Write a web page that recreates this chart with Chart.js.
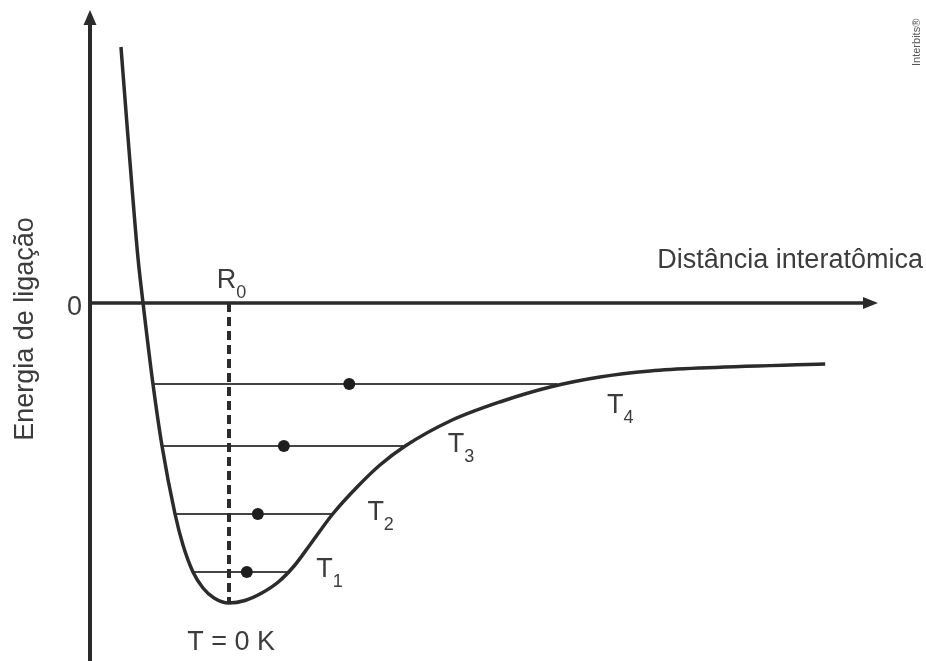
<!DOCTYPE html>
<html>
<head>
<meta charset="utf-8">
<script src="https://cdn.jsdelivr.net/npm/chart.js@4/dist/chart.umd.min.js"></script>
<style>
  html, body { margin: 0; padding: 0; background: #fff; }
  canvas { display: block; }
</style>
</head>
<body>
<canvas id="myChart" width="926" height="661"></canvas>
<script>
// potential energy curve: distance (x) vs binding energy (y)
const curveX = [0.393, 0.470, 0.546, 0.609, 0.673, 0.799, 0.914, 1.079, 1.180, 1.307, 1.434, 1.574, 1.764, 1.967, 2.18, 2.39, 2.59, 2.79, 3.08, 3.39, 3.68, 4.00, 4.57, 5.20, 5.84, 6.47, 7.11, 7.74, 9.33];
const curveY = [2.56, 1.78, 1.03, 0.45, 0.00, -0.81, -1.43, -2.11, -2.42, -2.69, -2.85, -2.95, -3.00, -2.975, -2.90, -2.79, -2.63, -2.42, -2.11, -1.84, -1.62, -1.43, -1.18, -0.99, -0.84, -0.74, -0.68, -0.65, -0.61];

// vibration levels T1..T4
const levelNames = ['1', '2', '3', '4'];
const levelY = [-2.69, -2.11, -1.43, -0.81];
const levelLeft = [1.307, 1.079, 0.914, 0.799];
const levelRight = [2.51, 3.08, 4.00, 5.93];
const dotX = [1.99, 2.13, 2.46, 3.29];
const labelX = [2.87, 3.52, 4.54, 6.56];
const labelY = [-2.74, -2.17, -1.49, -1.10];

// equilibrium distance and well bottom
const r0 = 1.764;
const minEnergy = -3.00;

const ink = '#2b2b2b';
const textInk = '#3c3c3c';
const font = '"Liberation Sans", Arial, sans-serif';

const datasets = [];

datasets.push({
  data: curveX.map((x, i) => ({ x: x, y: curveY[i] })),
  showLine: true,
  borderColor: ink,
  borderWidth: 3.5,
  pointRadius: 0,
  cubicInterpolationMode: 'monotone',
  order: 1
});

levelY.forEach((y, i) => {
  datasets.push({
    data: [{ x: levelLeft[i], y: y }, { x: levelRight[i], y: y }],
    showLine: true,
    borderColor: '#444',
    borderWidth: 1.8,
    pointRadius: 0,
    order: 3
  });
});

datasets.push({
  data: [{ x: r0, y: 0 }, { x: r0, y: minEnergy }],
  showLine: true,
  borderColor: ink,
  borderWidth: 4,
  borderDash: [9, 5],
  pointRadius: 0,
  order: 2
});

datasets.push({
  data: dotX.map((x, i) => ({ x: x, y: levelY[i] })),
  showLine: false,
  pointRadius: 6,
  pointBackgroundColor: '#1e1e1e',
  pointBorderWidth: 0,
  order: 0
});

function arrowHead(ctx, x, y, dir) {
  ctx.beginPath();
  if (dir === 'up') {
    ctx.moveTo(x, y);
    ctx.lineTo(x - 6.5, y + 15);
    ctx.lineTo(x + 6.5, y + 15);
  } else {
    ctx.moveTo(x, y);
    ctx.lineTo(x - 15, y - 6);
    ctx.lineTo(x - 15, y + 6);
  }
  ctx.closePath();
  ctx.fill();
}

const axesPlugin = {
  id: 'arrowAxes',
  beforeDatasetsDraw(chart) {
    const { ctx, scales: { x, y } } = chart;
    const x0 = x.getPixelForValue(0);
    const y0 = y.getPixelForValue(0);
    const top = y.getPixelForValue(y.max);
    const right = x.getPixelForValue(x.max);
    ctx.save();
    ctx.strokeStyle = ink;
    ctx.fillStyle = ink;
    ctx.lineWidth = 4;
    ctx.beginPath();
    ctx.moveTo(x0, chart.height);
    ctx.lineTo(x0, top + 12);
    ctx.stroke();
    arrowHead(ctx, x0, top, 'up');
    ctx.lineWidth = 3.5;
    ctx.beginPath();
    ctx.moveTo(x0, y0);
    ctx.lineTo(right - 12, y0);
    ctx.stroke();
    arrowHead(ctx, right, y0, 'right');
    ctx.restore();
  }
};

function subscripted(ctx, main, sub, px, py) {
  ctx.font = '27px ' + font;
  ctx.textAlign = 'left';
  ctx.fillText(main, px, py);
  const w = ctx.measureText(main).width;
  ctx.font = '18px ' + font;
  ctx.fillText(sub, px + w, py + 10);
}

const labelsPlugin = {
  id: 'curveLabels',
  afterDatasetsDraw(chart) {
    const { ctx, scales: { x, y } } = chart;
    ctx.save();
    ctx.fillStyle = textInk;
    ctx.textBaseline = 'alphabetic';

    levelNames.forEach((n, i) => {
      subscripted(ctx, 'T', n, x.getPixelForValue(labelX[i]), y.getPixelForValue(labelY[i]));
    });

    subscripted(ctx, 'R', '0', x.getPixelForValue(1.61), y.getPixelForValue(0.15));

    ctx.font = '27px ' + font;
    ctx.textAlign = 'center';
    ctx.fillText('T = 0 K', x.getPixelForValue(1.79), y.getPixelForValue(-3.47));

    ctx.textAlign = 'right';
    ctx.fillText('0', x.getPixelForValue(0) - 8, y.getPixelForValue(-0.12));
    ctx.fillText('Distância interatômica', x.getPixelForValue(10.57), y.getPixelForValue(0.35));

    ctx.save();
    ctx.translate(x.getPixelForValue(-0.72), y.getPixelForValue(-0.26));
    ctx.rotate(-Math.PI / 2);
    ctx.textAlign = 'center';
    ctx.fillText('Energia de ligação', 0, 0);
    ctx.restore();

    ctx.save();
    ctx.translate(920, 66);
    ctx.rotate(-Math.PI / 2);
    ctx.font = '11px ' + font;
    ctx.fillStyle = '#555';
    ctx.textAlign = 'left';
    ctx.fillText('Interbits®', 0, 0);
    ctx.restore();

    ctx.restore();
  }
};

const ctx = document.getElementById('myChart').getContext('2d');

const myChart = new Chart(ctx, {
  type: 'scatter',
  data: { datasets: datasets },
  options: {
    responsive: false,
    animation: false,
    events: [],
    layout: {
      autoPadding: false,
      padding: { left: 90, right: 48, top: 10, bottom: 0 }
    },
    scales: {
      x: { type: 'linear', min: 0, max: 10, display: false },
      y: { type: 'linear', min: -3.58, max: 2.93, display: false }
    },
    plugins: {
      legend: { display: false },
      tooltip: { enabled: false }
    }
  },
  plugins: [axesPlugin, labelsPlugin]
});
</script>
</body>
</html>
